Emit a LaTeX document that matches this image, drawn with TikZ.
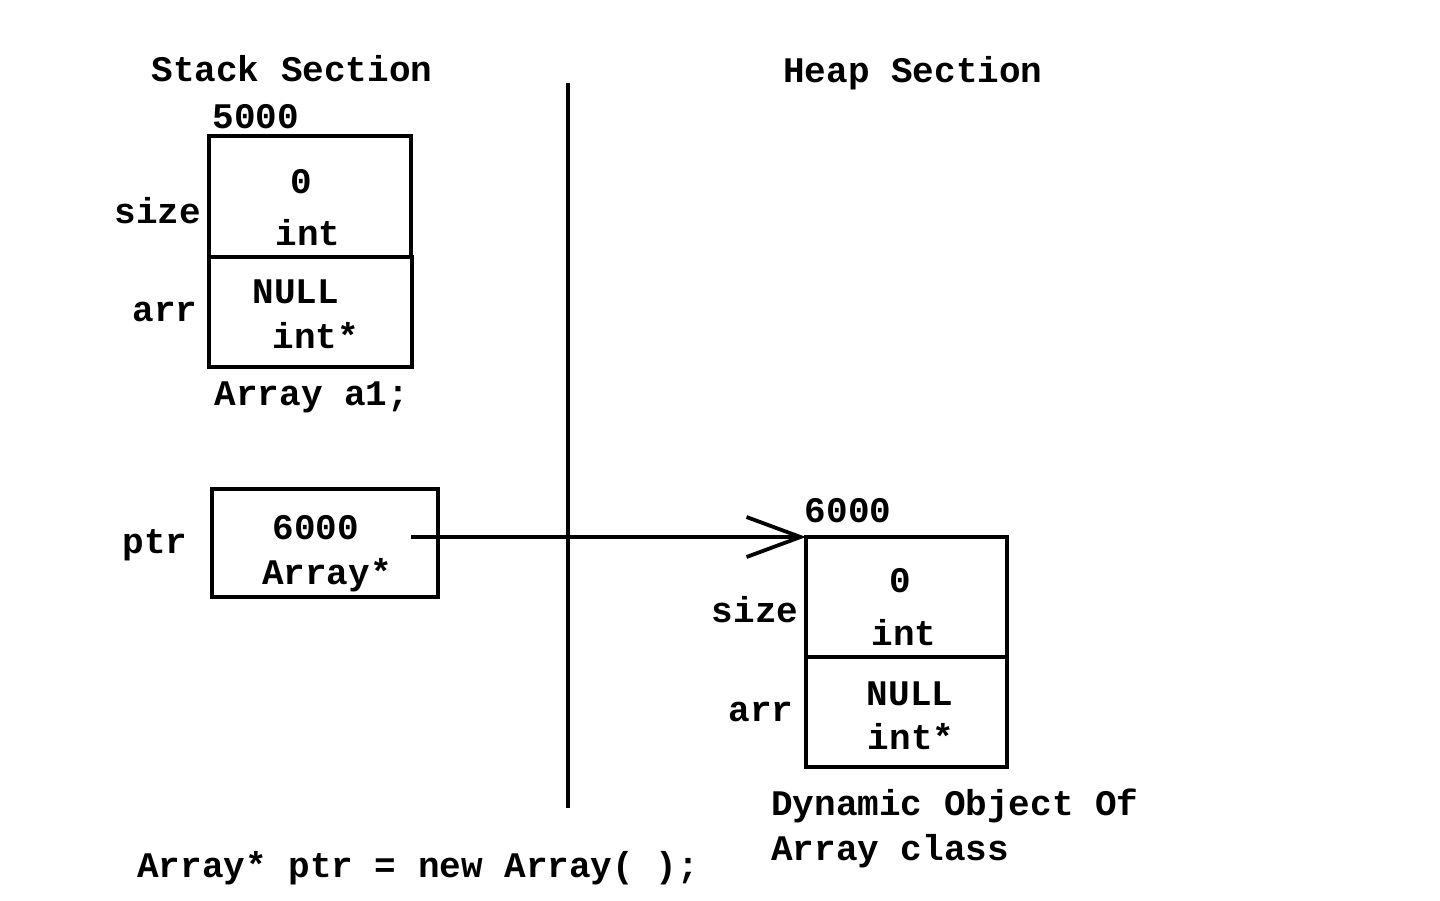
\documentclass[tikz,border=0pt]{standalone}
\usepackage{fontspec}
\setmainfont{Liberation Mono}
\usetikzlibrary{arrows.meta}
\tikzset{
  txt/.style={inner sep=0pt, font=\fontsize{36}{40}\selectfont\bfseries},
  cell/.style={draw, line width=3.8pt, inner sep=0pt, outer sep=0pt, anchor=north west},
  conn/.style={line width=3.8pt, -{Straight Barb[length=54pt, width=40pt, line width=3.8pt]}}
}
\begin{document}
\begin{tikzpicture}[x=1pt, y=-1pt]
\useasboundingbox (0,0) rectangle (1440,900);
% headings
\node[txt] (stackhead) at (292,69) {Stack Section};
\node[txt] (heaphead) at (913,73) {Heap Section};
\draw[line width=3.8pt] (568,83) coordinate (vtop) -- (568,808) coordinate (vbot);
% stack object a1
\node[txt] (addr1) at (256,117) {5000};
\node[cell, minimum width=202pt, minimum height=121pt] (s1size) at (209,136) {};
\node[cell, minimum width=203pt, minimum height=110pt] (s1arr) at (209,257) {};
\node[txt] (s1zero) at (301,182) {0};
\node[txt] (s1int) at (308,233) {int};
\node[txt] (s1sizel) at (158,211) {size};
\node[txt] (s1null) at (296,292) {NULL};
\node[txt] (s1intp) at (316,336) {int*};
\node[txt] (s1arrl) at (165,312) {arr};
\node[txt] (s1cap) at (312,397) {Array a1;};
% ptr
\node[cell, minimum width=226pt, minimum height=108pt] (ptrbox) at (212,489) {};
\node[txt] (ptrval) at (316,528) {6000};
\node[txt] (ptrtype) at (327,575) {Array*};
\node[txt] (ptrl) at (155,545) {ptr};
\coordinate (ptrstart) at (411,537);
% heap object
\node[txt] (addr2) at (848,511) {6000};
\node[cell, minimum width=201pt, minimum height=120pt] (hsize) at (806,537) {};
\node[cell, minimum width=201pt, minimum height=110pt] (harr) at (806,657) {};
\node[txt] (hzero) at (900,581) {0};
\node[txt] (hint) at (904,633) {int};
\node[txt] (hsizel) at (755,610) {size};
\node[txt] (hnull) at (910,694) {NULL};
\node[txt] (hintp) at (911,737) {int*};
\node[txt] (harrl) at (761,712) {arr};
\node[txt, anchor=west] (hcap1) at (771,806) {Dynamic Object Of};
\node[txt, anchor=west] (hcap2) at (771,851) {Array class};
% statement
\node[txt, anchor=west] (stmt) at (137,868) {Array* ptr = new Array( );};
% connector
\draw[conn] (ptrstart) -- (hsize.north west);
\end{tikzpicture}
\end{document}
